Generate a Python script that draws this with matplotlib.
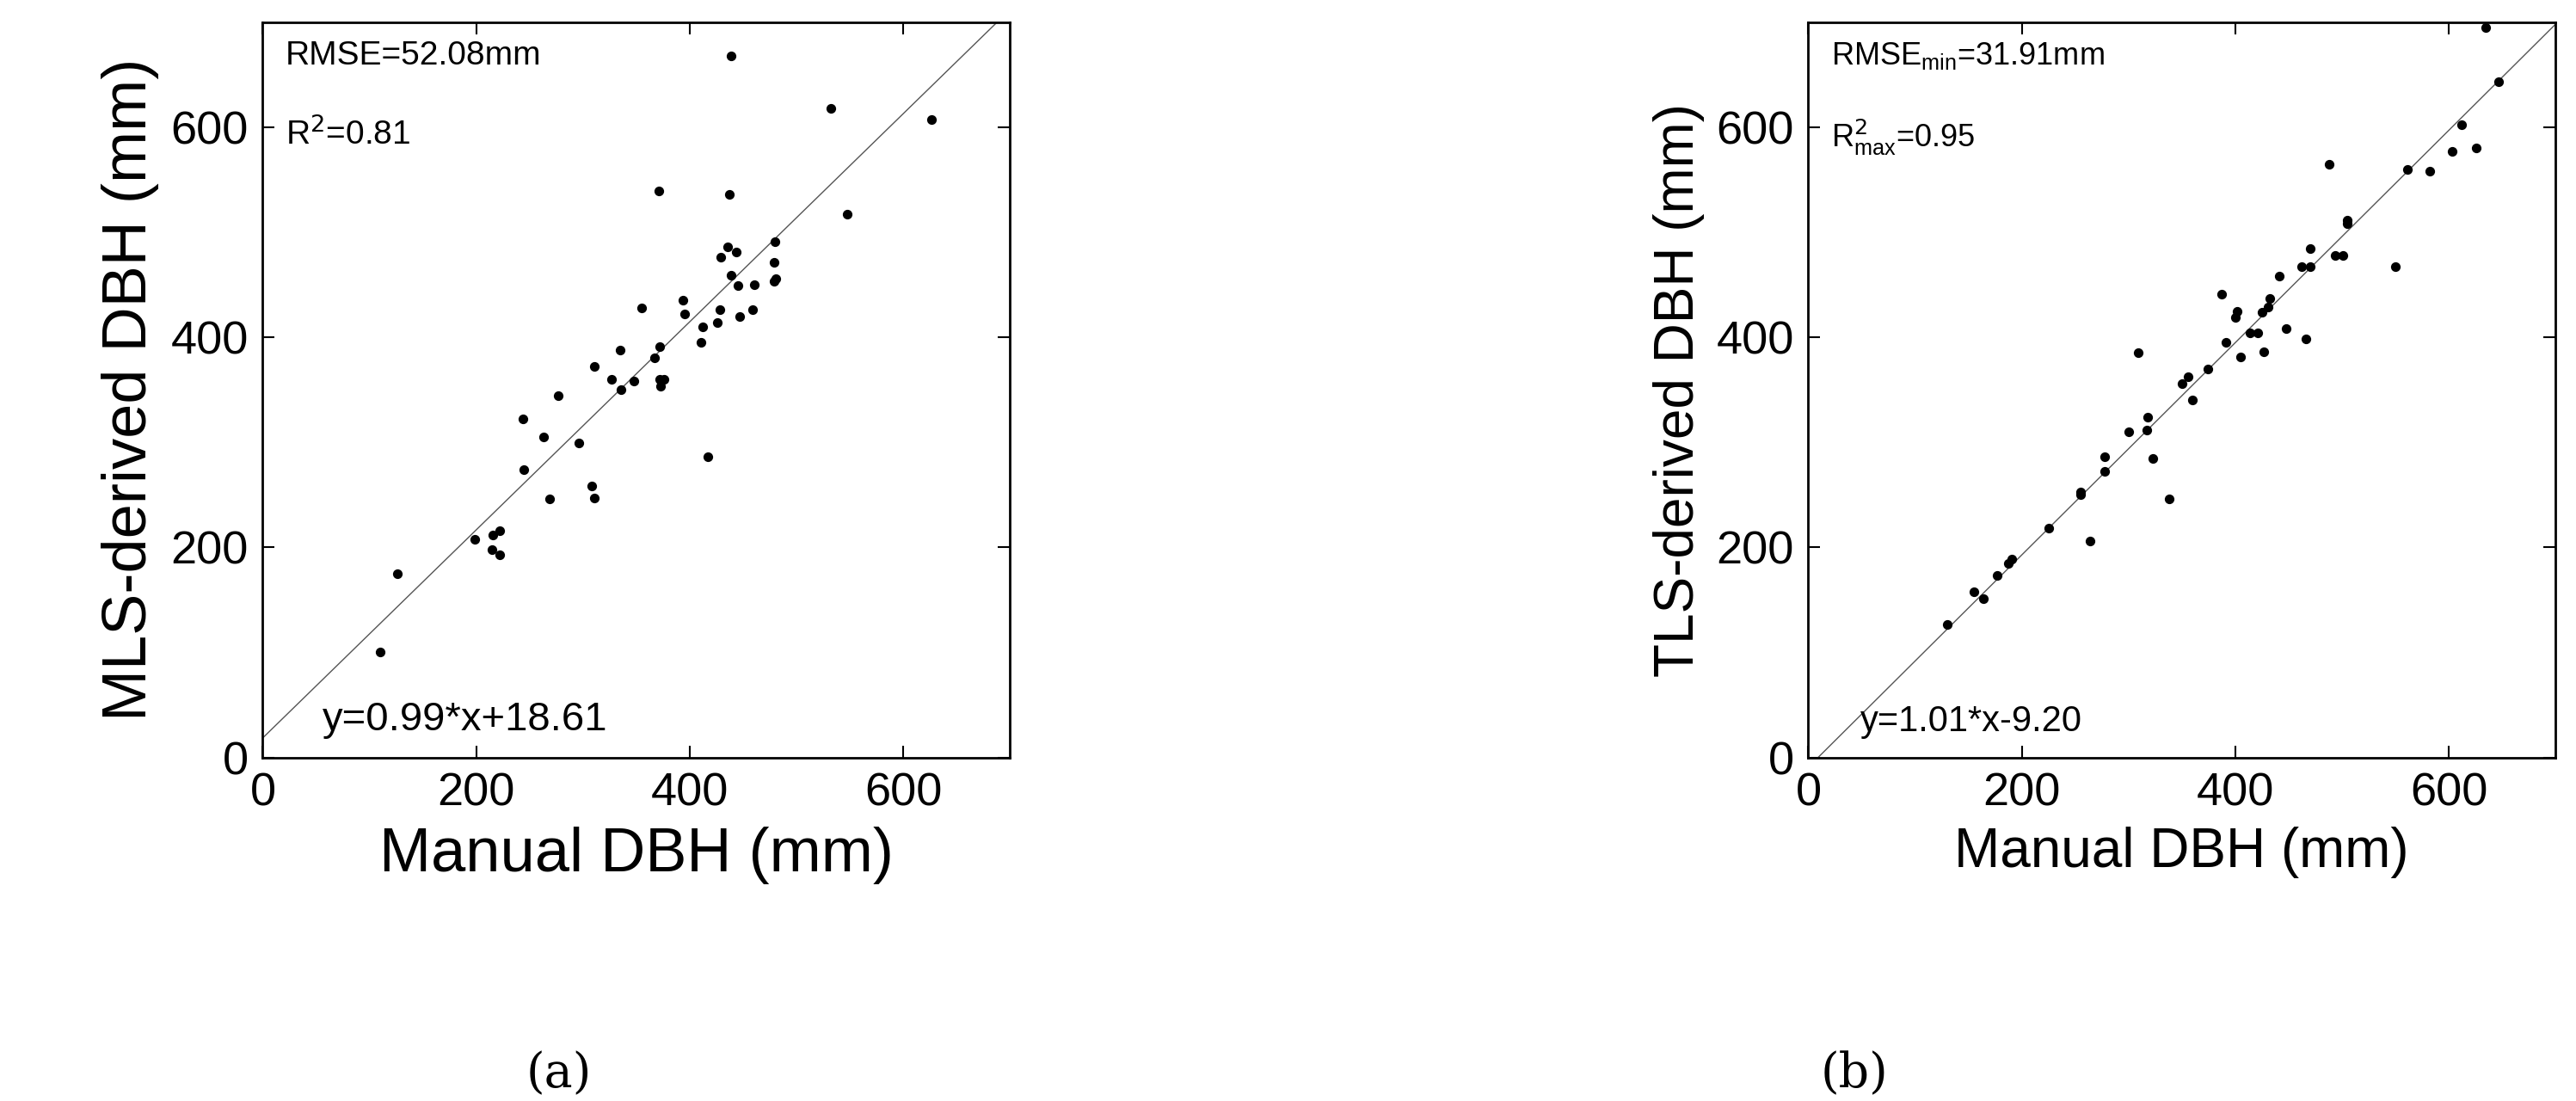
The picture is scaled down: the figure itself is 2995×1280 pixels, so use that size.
import numpy as np
import matplotlib
matplotlib.use("Agg")
import matplotlib.pyplot as plt

plt.rcParams.update({"font.family": ["Liberation Sans", "DejaVu Sans"]})

# panel (a): manual vs MLS-derived DBH (mm)
mls_x = [439, 532, 627, 371, 437, 548, 480, 436, 444, 429, 479, 439, 481, 479, 445, 461,
         394, 395, 355, 428, 459, 412, 426, 447, 411, 372, 335, 367, 311, 327, 348, 336,
         372, 376, 373, 277, 244, 263, 296, 245, 417, 269, 308, 311, 199, 216, 222, 215,
         222, 126, 110]
mls_y = [668, 618, 607, 539, 536, 517, 491, 486, 481, 476, 471, 459, 456, 453, 449, 450,
         435, 422, 428, 426, 426, 410, 414, 420, 395, 391, 388, 380, 372, 360, 358, 350,
         360, 360, 353, 344, 322, 305, 299, 274, 286, 246, 258, 247, 208, 212, 216, 198,
         193, 175, 100]

# panel (b): manual vs TLS-derived DBH (mm)
tls_x = [635, 647, 612, 603, 626, 488, 561, 582, 505, 505, 470, 494, 501, 462, 470, 550,
         441, 387, 432, 402, 400, 425, 431, 414, 421, 448, 391, 466, 309, 405, 427, 374,
         356, 350, 360, 318, 317, 300, 278, 323, 278, 255, 255, 338, 225, 264, 191, 187,
         177, 155, 164, 130]
tls_y = [695, 643, 602, 577, 580, 565, 560, 558, 511, 508, 484, 478, 478, 467, 467, 467,
         458, 441, 437, 425, 419, 424, 429, 404, 404, 408, 395, 398, 385, 381, 386, 370,
         362, 356, 340, 324, 312, 310, 286, 285, 272, 253, 250, 246, 218, 206, 189, 185,
         173, 158, 151, 127]

fits = [(0.99, 18.61), (1.01, -9.20)]
ticks = [0, 200, 400, 600]

fig = plt.figure(figsize=(29.95, 12.8), dpi=100)
ax_a = fig.add_axes([0.102, 0.312, 0.290, 0.668])
ax_b = fig.add_axes([0.702, 0.312, 0.290, 0.668])


def panel(ax, xs, ys, fit, xlabel, ylabel, lab_size):
    xl = np.array([0, 700])
    ax.plot(xl, fit[0] * xl + fit[1], color="#555555", lw=1.0)
    ax.scatter(xs, ys, s=50, color="black", zorder=3)
    ax.set_xlim(0, 700)
    ax.set_ylim(0, 700)
    ax.set_xticks(ticks)
    ax.set_yticks(ticks)
    ax.tick_params(direction="in", top=True, right=True, length=10, width=1.5,
                   labelsize=39, pad=12)
    for s in ax.spines.values():
        s.set_linewidth(2.0)
    ax.set_xlabel(xlabel, fontsize=lab_size, labelpad=10)
    ax.set_ylabel(ylabel, fontsize=lab_size, labelpad=10)


panel(ax_a, mls_x, mls_y, fits[0], "Manual DBH (mm)", "MLS-derived DBH (mm)", 52)
panel(ax_b, tls_x, tls_y, fits[1], "Manual DBH (mm)", "TLS-derived DBH (mm)", 46)

ax_a.text(0.03, 0.975, "RMSE=52.08mm", transform=ax_a.transAxes, fontsize=28, va="top")
ax_a.text(0.03, 0.87, "R$^2$=0.81", transform=ax_a.transAxes, fontsize=28, va="top")
ax_a.text(0.08, 0.025, "y=0.99*x+18.61", transform=ax_a.transAxes, fontsize=34, va="bottom")

ax_b.text(0.03, 0.975, "RMSE$_{\\mathregular{min}}$=31.91mm", transform=ax_b.transAxes,
          fontsize=26, va="top")
ax_b.text(0.03, 0.87, "R$^2_{\\mathregular{max}}$=0.95", transform=ax_b.transAxes,
          fontsize=26, va="top")
ax_b.text(0.07, 0.025, "y=1.01*x-9.20", transform=ax_b.transAxes, fontsize=30, va="bottom")

fig.text(0.217, 0.012, "(a)", fontsize=40, family="DejaVu Serif", ha="center")
fig.text(0.72, 0.012, "(b)", fontsize=40, family="DejaVu Serif", ha="center")

fig.savefig("out.png", dpi=100)
